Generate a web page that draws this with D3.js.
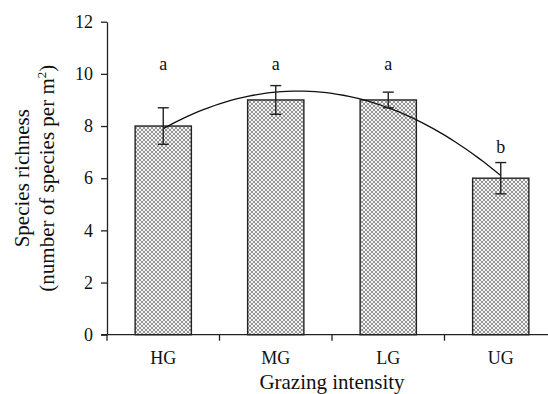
<!DOCTYPE html>
<html>
<head>
<meta charset="utf-8">
<script src="https://cdn.jsdelivr.net/npm/d3@7"></script>
<style>
  html, body { margin: 0; padding: 0; background: #fff; }
  svg { display: block; font-family: "Liberation Serif", "Times New Roman", serif; }
</style>
</head>
<body>
<svg id="chart" width="548" height="394"></svg>
<script>
// Grazing intensity treatments
const categories = ["HG", "MG", "LG", "UG"];
// Mean species richness (species per m²)
const means = [8, 9, 9, 6];
// Standard errors
const errors = [0.7, 0.55, 0.3, 0.6];
// Significance letters and the height (in data units) where they sit
const letters = ["a", "a", "a", "b"];
const letterAt = [10.15, 10.15, 10.15, 6.95];
// Y axis ticks
const yTicks = [0, 2, 4, 6, 8, 10, 12];

const svg = d3.select("#chart");
const plotL = 107, plotR = 557, plotT = 21.7, plotB = 334.7;

const x = d3.scaleBand().domain(categories).range([plotL, plotR])
  .paddingInner(0.5).paddingOuter(0.25);
const y = d3.scaleLinear().domain([0, 12]).range([plotB, plotT]);
const bw = x.bandwidth();
const cx = d => x(d) + bw / 2;

// crosshatch fill for the bars
const defs = svg.append("defs");
const pat = defs.append("pattern")
  .attr("id", "hatch").attr("patternUnits", "userSpaceOnUse")
  .attr("width", 4).attr("height", 4);
pat.append("rect").attr("width", 4).attr("height", 4).attr("fill", "#f4f4f4");
pat.append("path")
  .attr("d", "M0,0 L4,4 M4,0 L0,4 M-1,3 L1,5 M3,-1 L5,1 M-1,1 L1,-1 M3,5 L5,3")
  .attr("stroke", "#8a8a8a").attr("stroke-width", 0.9).attr("fill", "none");

// bars
svg.append("g").selectAll("rect").data(categories).join("rect")
  .attr("x", d => x(d))
  .attr("y", (d, i) => y(means[i]))
  .attr("width", bw)
  .attr("height", (d, i) => y(0) - y(means[i]))
  .attr("fill", "url(#hatch)")
  .attr("stroke", "#222").attr("stroke-width", 1.4);

// quadratic least-squares trend through the treatment means
function quadFit(xs, ys) {
  const n = xs.length;
  const S = k => d3.sum(xs, v => Math.pow(v, k));
  const T = k => d3.sum(xs, (v, i) => Math.pow(v, k) * ys[i]);
  const A = [[n, S(1), S(2), T(0)], [S(1), S(2), S(3), T(1)], [S(2), S(3), S(4), T(2)]];
  for (let c = 0; c < 3; c++) {
    for (let r = c + 1; r < 3; r++) {
      const f = A[r][c] / A[c][c];
      for (let k = c; k < 4; k++) A[r][k] -= f * A[c][k];
    }
  }
  const coef = [0, 0, 0];
  for (let r = 2; r >= 0; r--) {
    let s = A[r][3];
    for (let k = r + 1; k < 3; k++) s -= A[r][k] * coef[k];
    coef[r] = s / A[r][r];
  }
  return t => coef[0] + coef[1] * t + coef[2] * t * t;
}
const idx = categories.map((d, i) => i);
const fit = quadFit(idx, means);
const xi = d3.scaleLinear().domain([0, categories.length - 1])
  .range([cx(categories[0]), cx(categories[categories.length - 1])]);
const ts = d3.range(0, categories.length - 1 + 1e-9, 0.05);
svg.append("path")
  .datum(ts)
  .attr("d", d3.line().x(t => xi(t)).y(t => y(fit(t))).curve(d3.curveLinear))
  .attr("fill", "none").attr("stroke", "#111").attr("stroke-width", 1.3);

// error bars
const eb = svg.append("g").attr("stroke", "#222").attr("stroke-width", 1.4);
categories.forEach((d, i) => {
  const c = cx(d), hi = y(means[i] + errors[i]), lo = y(means[i] - errors[i]);
  eb.append("line").attr("x1", c).attr("x2", c).attr("y1", hi).attr("y2", lo);
  eb.append("line").attr("x1", c - 5.5).attr("x2", c + 5.5).attr("y1", hi).attr("y2", hi);
  eb.append("line").attr("x1", c - 5.5).attr("x2", c + 5.5).attr("y1", lo).attr("y2", lo);
});

// significance letters
svg.append("g").selectAll("text").data(categories).join("text")
  .attr("x", d => cx(d)).attr("y", (d, i) => y(letterAt[i]))
  .attr("text-anchor", "middle").attr("font-size", 18).attr("fill", "#111")
  .text((d, i) => letters[i]);

// y axis
const yAxis = svg.append("g").attr("transform", `translate(${plotL},0)`)
  .call(d3.axisLeft(y).tickValues(yTicks).tickSize(6).tickPadding(8).tickSizeOuter(0));
yAxis.select(".domain").attr("stroke", "#222").attr("stroke-width", 1.3);
yAxis.selectAll(".tick line").attr("stroke", "#222").attr("stroke-width", 1.3);
yAxis.selectAll(".tick text").attr("font-size", 18).attr("fill", "#111")
  .attr("font-family", "Liberation Serif, serif");

// x axis: labels under bars, ticks at the category boundaries
const xAxis = svg.append("g").attr("transform", `translate(0,${plotB})`)
  .call(d3.axisBottom(x).tickSize(0).tickPadding(17).tickSizeOuter(0));
xAxis.select(".domain").attr("d", `M${plotL - 6},0H${plotR}`)
  .attr("stroke", "#222").attr("stroke-width", 1.3);
xAxis.selectAll(".tick text").attr("font-size", 18).attr("fill", "#111")
  .attr("font-family", "Liberation Serif, serif");
const step = x.step();
xAxis.append("g").selectAll("line").data(categories).join("line")
  .attr("x1", d => cx(d) - step / 2).attr("x2", d => cx(d) - step / 2)
  .attr("y1", 0).attr("y2", 6)
  .attr("stroke", "#222").attr("stroke-width", 1.3);

// axis titles
svg.append("text")
  .attr("x", (plotL + plotR) / 2).attr("y", 389)
  .attr("text-anchor", "middle").attr("font-size", 21).attr("fill", "#111")
  .text("Grazing intensity");

const yt = svg.append("text")
  .attr("transform", `translate(0,${(plotT + plotB) / 2}) rotate(-90)`)
  .attr("text-anchor", "middle").attr("font-size", 21).attr("fill", "#111");
yt.append("tspan").attr("x", 0).attr("y", 28.5).text("Species richness");
const l2 = yt.append("tspan").attr("x", 0).attr("y", 54);
l2.append("tspan").text("(number of species per m");
l2.append("tspan").attr("font-size", 13).attr("dy", -8).text("2");
l2.append("tspan").attr("dy", 8).text(")");
</script>
</body>
</html>
